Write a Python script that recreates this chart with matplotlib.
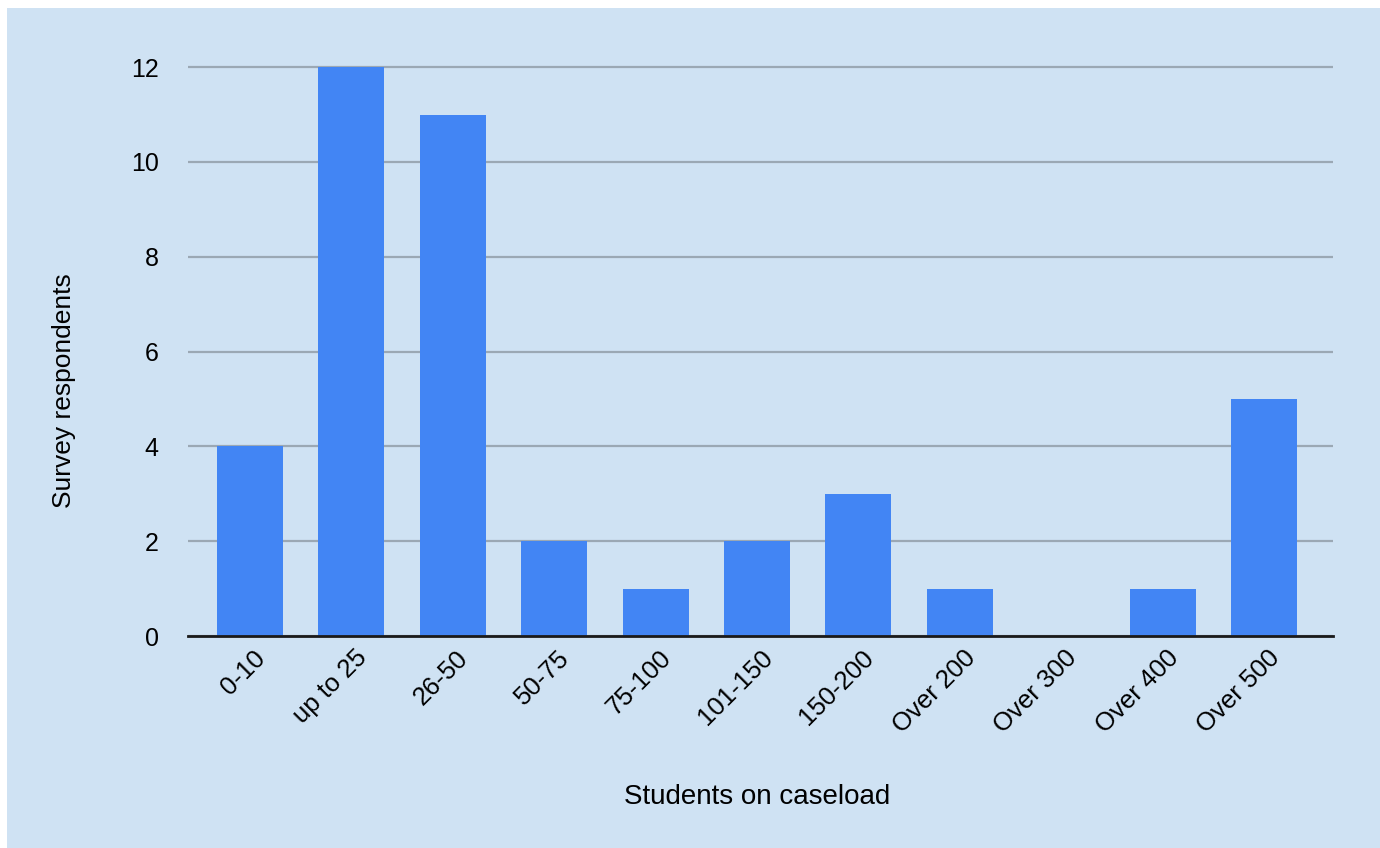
import numpy as np
import matplotlib.pyplot as plt
import matplotlib.transforms as mtransforms
from matplotlib.patches import Rectangle

plt.rcParams['font.family'] = ['Liberation Sans', 'DejaVu Sans']

categories = ['0-10', 'up to 25', '26-50', '50-75', '75-100', '101-150',
              '150-200', 'Over 200', 'Over 300', 'Over 400', 'Over 500']
respondents = [4, 12, 11, 2, 1, 2, 3, 1, 0, 1, 5]
y_ticks = [0, 2, 4, 6, 8, 10, 12]

bg = '#cfe2f3'
bar_color = '#4285f4'

fig = plt.figure(figsize=(13.8, 8.48), dpi=100, facecolor='white')
# light blue chart area inside a thin white margin
fig.patches.append(Rectangle((7 / 1380, 0), 1 - 7 / 1380, 1 - 8 / 848,
                             transform=fig.transFigure, facecolor=bg,
                             edgecolor='none', zorder=-10))

ax = fig.add_axes([0.1362, 0.25, 0.8298, 0.682])
ax.set_facecolor(bg)

x = np.arange(len(categories))
ax.bar(x, respondents, width=0.65, color=bar_color, zorder=3)

ax.set_xlim(-0.61, 10.68)
ax.set_ylim(0, 12.2)
ax.set_yticks(y_ticks)
ax.set_xticks(x)
ax.set_xticklabels(categories, rotation=45, ha='right', va='center',
                   rotation_mode='anchor', fontsize=18.5)
ax.tick_params(axis='y', length=0, pad=21, labelsize=18)
ax.tick_params(axis='x', length=0, pad=16)

# nudge the slanted labels so they end just right of each bar's centre
shift = mtransforms.ScaledTranslation(0.12, 0.04, fig.dpi_scale_trans)
for lbl in ax.get_xticklabels():
    lbl.set_transform(lbl.get_transform() + shift)

ax.grid(axis='y', color='#9ba8b4', linewidth=1.6, zorder=1)
for s in ['top', 'right', 'left']:
    ax.spines[s].set_visible(False)
ax.spines['bottom'].set_color('#1a1a1a')
ax.spines['bottom'].set_linewidth(2)
ax.spines['bottom'].set_zorder(4)

ax_h = 0.682 * 848
ax.set_xlabel('Students on caseload', fontsize=20, va='center')
ax.xaxis.set_label_coords((757 - 188) / 1145, (636 - 797) / ax_h)
ax.set_ylabel('Survey respondents', fontsize=19, va='center')
ax.yaxis.set_label_coords((64 - 188) / 1145, (636 - 391) / ax_h)

fig.savefig('out.png', dpi=100, facecolor='white')
